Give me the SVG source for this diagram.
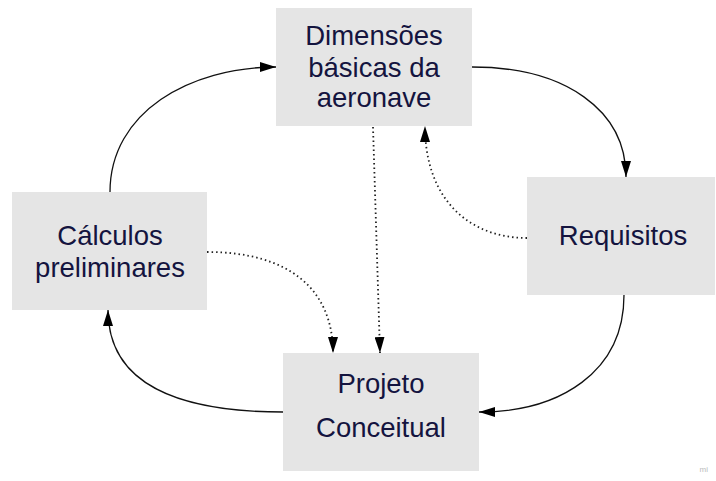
<svg xmlns="http://www.w3.org/2000/svg" width="716" height="481" viewBox="0 0 716 481">
<style>
.box{fill:#e5e5e5;}
.lbl{font-family:"Liberation Sans",Arial,sans-serif;font-size:27.5px;fill:#14143f;text-anchor:middle;}
.c{fill:none;stroke:#111;stroke-width:1.3;}
.d{fill:none;stroke:#222;stroke-width:1.8;stroke-dasharray:1.5 3;}
</style>
<defs>
<marker id="ah" viewBox="0 0 16 10" refX="16" refY="5" markerWidth="16" markerHeight="10" markerUnits="userSpaceOnUse" orient="auto">
<path d="M0,0 L16,5 L0,10 Z" fill="#000"/>
</marker>
</defs>
<rect width="716" height="481" fill="#fff"/>
<g id="connectors">
<path class="c" d="M110,192 C110,112 190,67 276,67" marker-end="url(#ah)"/>
<path class="c" d="M472,67 C565,67 626,110 626,177" marker-end="url(#ah)"/>
<path class="c" d="M624,295 C624,372 560,412 479,412" marker-end="url(#ah)"/>
<path class="c" d="M283,412 C180,412 108,385 108,310" marker-end="url(#ah)"/>
<path class="d" d="M373,127 L380,353" marker-end="url(#ah)"/>
<path class="d" d="M207,252 C290,252 333,290 333,353" marker-end="url(#ah)"/>
<path class="d" d="M527,238 C470,238 425,200 425,126" marker-end="url(#ah)"/>
</g>
<g id="dimensoes">
<rect class="box" x="276" y="8" width="196" height="118"/>
<text class="lbl" x="374" y="45">Dimensões</text>
<text class="lbl" x="374" y="77">básicas da</text>
<text class="lbl" x="374" y="107">aeronave</text>
</g>
<g id="calculos">
<rect class="box" x="12" y="192" width="195" height="118"/>
<text class="lbl" x="110" y="245">Cálculos</text>
<text class="lbl" x="110" y="277">preliminares</text>
</g>
<g id="requisitos">
<rect class="box" x="527" y="177" width="188" height="118"/>
<text class="lbl" x="623" y="245">Requisitos</text>
</g>
<g id="projeto">
<rect class="box" x="283" y="353" width="196" height="118"/>
<text class="lbl" x="381" y="393">Projeto</text>
<text class="lbl" x="381" y="437">Conceitual</text>
</g>
<text x="708" y="472" font-family="'Liberation Sans',Arial,sans-serif" font-size="8" fill="#bbb" text-anchor="end">mi</text>
</svg>
